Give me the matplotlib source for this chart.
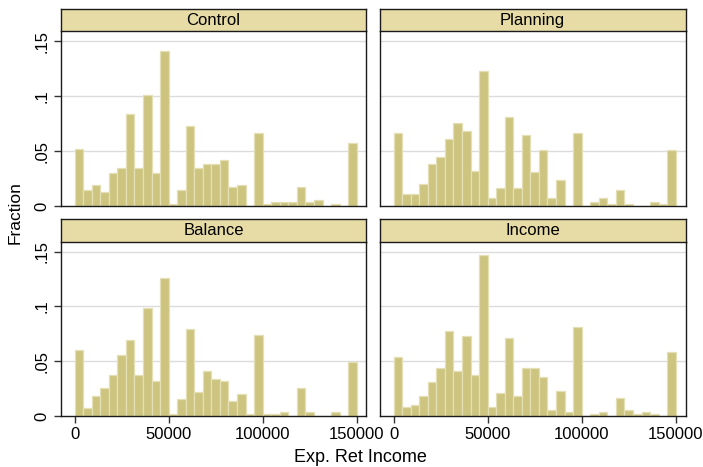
import numpy as np
import matplotlib
matplotlib.use("Agg")
import matplotlib.pyplot as plt

plt.rcParams['font.family'] = ['Liberation Sans', 'DejaVu Sans']

# Histogram bins: 33 equal-width bins from 0 to 150000
bin_lo, bin_hi, n_bins = 0, 150000, 33

groups = ["Control", "Planning", "Balance", "Income"]

control = [0.0515, 0.0148, 0.0188, 0.0130, 0.0303, 0.0342, 0.0836, 0.0342, 0.1012, 0.0303, 0.1412,
           0.0018, 0.0148, 0.0724, 0.0342, 0.0379, 0.0379, 0.0415, 0.0170, 0.0188, 0.0, 0.0667,
           0.0018, 0.0033, 0.0033, 0.0033, 0.0170, 0.0033, 0.0052, 0.0, 0.0018, 0.0, 0.0570]
planning = [0.0664, 0.0106, 0.0106, 0.0197, 0.0379, 0.0448, 0.0612, 0.0755, 0.0685, 0.0321, 0.1224,
            0.0070, 0.0160, 0.0809, 0.0160, 0.0648, 0.0306, 0.0506, 0.0070, 0.0233, 0.0, 0.0664,
            0.0, 0.0033, 0.0070, 0.0018, 0.0142, 0.0018, 0.0, 0.0, 0.0033, 0.0018, 0.0506]
balance = [0.0600, 0.0076, 0.0179, 0.0258, 0.0376, 0.0558, 0.0697, 0.0376, 0.0982, 0.0315, 0.1258,
           0.0018, 0.0155, 0.0797, 0.0215, 0.0415, 0.0336, 0.0315, 0.0136, 0.0197, 0.0018, 0.0736,
           0.0018, 0.0018, 0.0033, 0.0, 0.0258, 0.0033, 0.0, 0.0, 0.0033, 0.0, 0.0497]
income = [0.0542, 0.0079, 0.0100, 0.0185, 0.0312, 0.0436, 0.0773, 0.0415, 0.0730, 0.0373, 0.1467,
          0.0079, 0.0206, 0.0709, 0.0185, 0.0436, 0.0436, 0.0355, 0.0058, 0.0224, 0.0033, 0.0815,
          0.0, 0.0018, 0.0033, 0.0, 0.0160, 0.0058, 0.0018, 0.0033, 0.0018, 0.0, 0.0582]

series = [control, planning, balance, income]

x_ticks = [0, 50000, 100000, 150000]
x_ticklabels = ["0", "50000", "100000", "150000"]
y_ticks = [0, 0.05, 0.10, 0.15]
y_ticklabels = ["0", ".05", ".1", ".15"]

BAR_FILL = "#cdc47f"
BAR_EDGE = "#e4dfb4"
STRIP_FILL = "#e7dca6"
GRID = "#dcdcdc"
FRAME = "#1a1a1a"

W, H = 703, 467
fig = plt.figure(figsize=(W / 100, H / 100), dpi=100)
fig.patch.set_facecolor("white")

cols = [(60.5, 366.5), (379.5, 685.5)]
rows = [(9, 31, 206), (219, 241.5, 416)]  # strip top, plot top, plot bottom

edges = np.linspace(bin_lo, bin_hi, n_bins + 1)
binw = edges[1] - edges[0]

for i, (name, vals) in enumerate(zip(groups, series)):
    r, c = divmod(i, 2)
    x0, x1 = cols[c]
    st, pt, pb = rows[r]
    ax = fig.add_axes([x0 / W, (H - pb) / H, (x1 - x0) / W, (pb - pt) / H])
    ax.bar(edges[:-1], vals, width=binw, align="edge", color=BAR_FILL,
           edgecolor=BAR_EDGE, linewidth=0.9, zorder=2)
    ax.set_xlim(-7450, 155150)
    ax.set_ylim(0, 0.1592)
    ax.set_yticks(y_ticks)
    ax.set_xticks(x_ticks)
    for yv in y_ticks[1:]:
        ax.axhline(yv, color=GRID, linewidth=1.0, zorder=1)
    for sp in ax.spines.values():
        sp.set_color(FRAME)
        sp.set_linewidth(1.0)
    ax.spines["top"].set_visible(False)
    ax.tick_params(axis="both", direction="out", length=5, width=1.0,
                   color="#333333", labelsize=12, pad=3)
    if c == 0:
        ax.set_yticklabels(y_ticklabels, rotation=90, va="center")
    else:
        ax.tick_params(axis="y", left=False, labelleft=False)
    if r == 1:
        ax.set_xticklabels(x_ticklabels)
    else:
        ax.tick_params(axis="x", bottom=False, labelbottom=False)

    # title strip above each panel
    sax = fig.add_axes([x0 / W, (H - pt) / H, (x1 - x0) / W, (pt - st) / H])
    sax.set_xticks([])
    sax.set_yticks([])
    sax.set_facecolor(STRIP_FILL)
    for sp in sax.spines.values():
        sp.set_color(FRAME)
        sp.set_linewidth(1.0)
    sax.text(0.5, 0.47, name, ha="center", va="center", fontsize=12,
             transform=sax.transAxes)

fig.text(360 / W, 1 - 457 / H, "Exp. Ret Income", ha="center", va="center", fontsize=13)
fig.text(15 / W, 1 - 213 / H, "Fraction", ha="center", va="center", rotation=90, fontsize=12.5)

fig.savefig("out.png", dpi=100)
